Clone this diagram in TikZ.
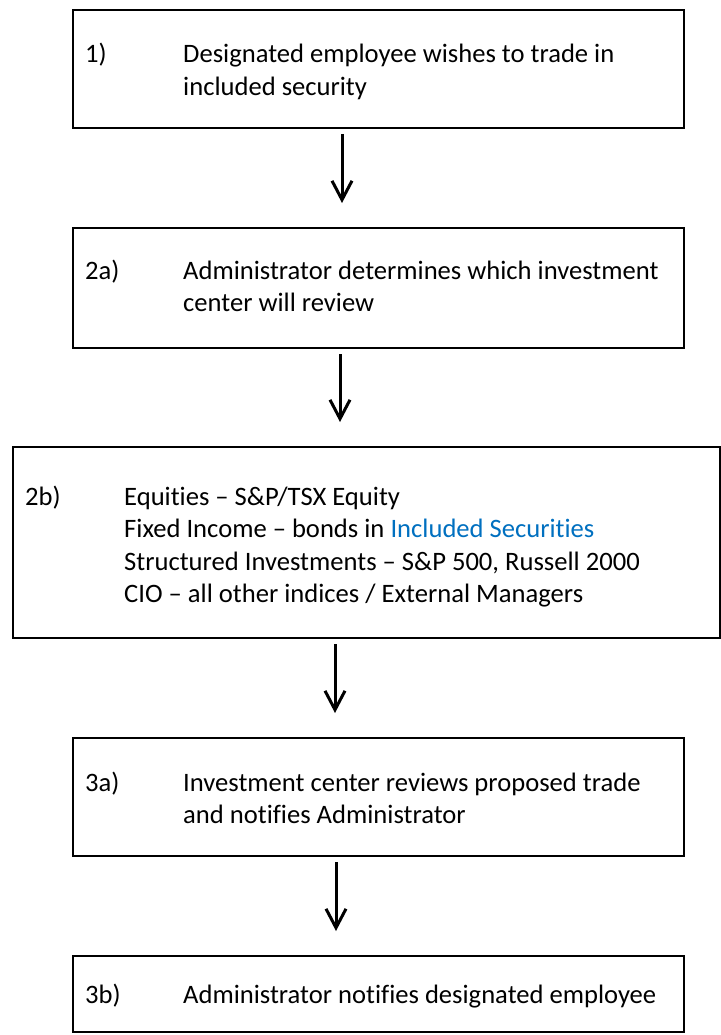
\documentclass[tikz,border=0pt]{standalone}
\usepackage{fontspec}
\setmainfont{Carlito}[Ligatures={NoCommon}]
\usetikzlibrary{arrows.meta}
\definecolor{linkblue}{HTML}{0070C0}
\begin{document}
\begin{tikzpicture}[x=1pt,y=-1pt,
  stepbox/.style={draw, line width=2pt, inner sep=0pt, anchor=north west},
  txt/.style={anchor=base west, inner sep=0pt, font=\fontsize{26.6}{32.5}\selectfont},
  flow/.style={line width=3pt, -{Straight Barb[length=19pt,width=20pt]},
               shorten <=5pt, shorten >=24pt}]
\useasboundingbox (0,0) rectangle (720,1035);
\fill[white] (0,0) rectangle (720,1035);

% boxes
\node[stepbox, minimum width=611pt, minimum height=118pt] (b1)  at (72,9)   {};
\node[stepbox, minimum width=611pt, minimum height=120pt] (b2a) at (72,227) {};
\node[stepbox, minimum width=707pt, minimum height=191pt] (b2b) at (12,446) {};
\node[stepbox, minimum width=611pt, minimum height=118pt] (b3a) at (72,737) {};
\node[stepbox, minimum width=611pt, minimum height=76pt]  (b3b) at (72,955) {};

% step 1
\node[txt] (l1) at (85,63) {1)};
\node[txt] (t1) at (183,63) {\vtop{\hbox{Designated employee wishes to trade in}\hbox{included security}}};

% step 2a
\node[txt] (l2a) at (85,279) {2a)};
\node[txt] (t2a) at (183,279) {\vtop{\hbox{Administrator determines which investment}\hbox{center will review}}};

% step 2b
\node[txt] (l2b) at (25,505) {2b)};
\node[txt] (t2b) at (124,505) {\vtop{%
  \hbox{Equities – S\&P/TSX Equity}%
  \hbox{Fixed Income – bonds in \textcolor{linkblue}{Included Securities}}%
  \hbox{Structured Investments – S\&P 500, Russell 2000}%
  \hbox{CIO – all other indices / External Managers}}};

% step 3a
\node[txt] (l3a) at (85,791) {3a)};
\node[txt] (t3a) at (183,791) {\vtop{\hbox{Investment center reviews proposed trade}\hbox{and notifies Administrator}}};

% step 3b
\node[txt] (l3b) at (85,1003) {3b)};
\node[txt] (t3b) at (183,1003) {Administrator notifies designated employee};

% arrow columns
\coordinate (c1) at (342,0);
\coordinate (c2) at (340,0);
\coordinate (c3) at (335,0);
\coordinate (c4) at (336,0);

\draw[flow] (b1.south -| c1)  -- (b2a.north -| c1);
\draw[flow] (b2a.south -| c2) -- (b2b.north -| c2);
\draw[flow] (b2b.south -| c3) -- (b3a.north -| c3);
\draw[flow] (b3a.south -| c4) -- (b3b.north -| c4);
\end{tikzpicture}
\end{document}
